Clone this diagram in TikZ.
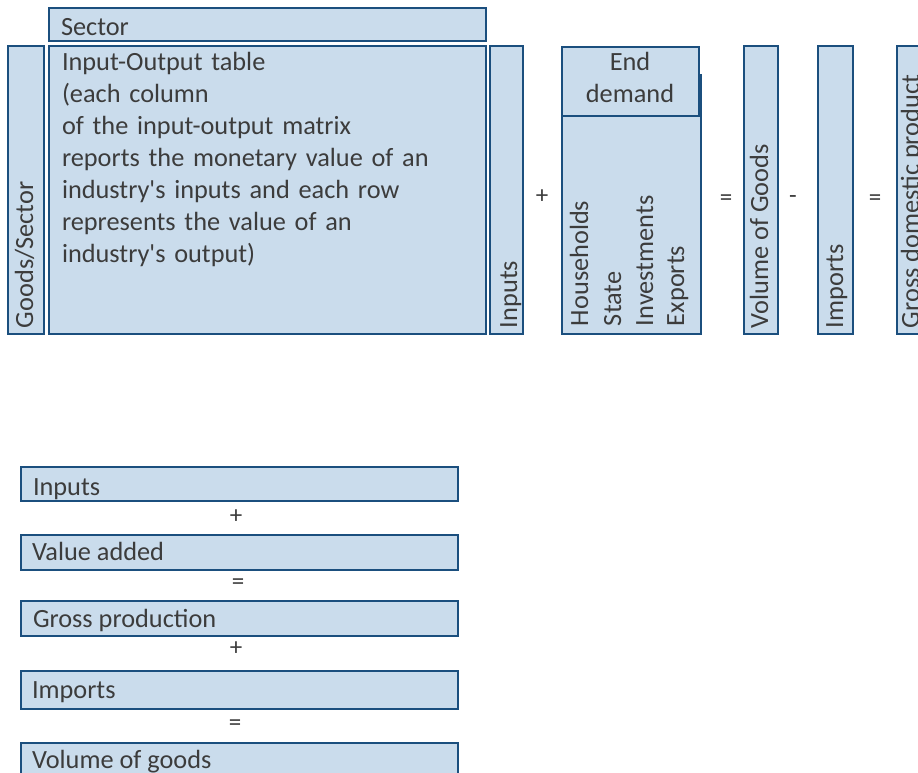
\documentclass[tikz,border=0pt]{standalone}
\usepackage{fontspec}
\setmainfont{Carlito}[Ligatures=TeXOff]
\definecolor{boxfill}{HTML}{CADCEC}
\definecolor{boxline}{HTML}{1B4F7E}
\definecolor{txt}{HTML}{3C3C3C}
\begin{document}
\begin{tikzpicture}[x=1pt,y=-1pt,
  cell/.style={draw=boxline,fill=boxfill,line width=2pt},
  lbl/.style={inner sep=0pt,outer sep=0pt,text=txt,font=\fontsize{26.3}{32}\selectfont,anchor=base west},
  vlbl/.style={lbl,rotate=90},
  op/.style={inner sep=0pt,text=txt,font=\fontsize{25}{28}\selectfont}]
\useasboundingbox (0,0) rectangle (918,773);
\clip (0,0) rectangle (918,773);
% top row boxes
\path[cell] (49,8) rectangle (486,41);
\path[cell] (8,46) rectangle (44,334);
\path[cell] (49,46) rectangle (486,334);
\path[cell] (490,46) rectangle (523,334);
\path[cell] (562,75) rectangle (701,334);
\path[cell] (562,47) rectangle (699,116);
\path[cell] (744,46) rectangle (778,334);
\path[cell] (818,46) rectangle (853,334);
\path[cell] (897,46) rectangle (935,334);
% top row texts
\node[lbl] (sector) at (61,36) {Sector};
\node[vlbl] (goods) at (33,328) {Goods/Sector};
\node[lbl,align=left,anchor=north west,text width=420pt] (io) at (62,52)
 {Input-Output table\\(each column\\of the input-output matrix\\reports the monetary value of an\\industry's inputs and each row\\represents the value of an\\industry's output)};
\node[vlbl] (inputs) at (517,328) {Inputs};
\node[op] (plus) at (542,197) {+};
\node[lbl,anchor=base] (end) at (630,71) {End};
\node[lbl,anchor=base] (demand) at (630,103) {demand};
\node[vlbl] (hh) at (588,326) {Households};
\node[vlbl] (state) at (621,326) {State};
\node[vlbl] (inv) at (653,326) {Investments};
\node[vlbl] (exp) at (684,326) {Exports};
\node[op] (eq1) at (726,200) {=};
\node[vlbl] (vog) at (768,328) {Volume of Goods};
\node[op] (minus) at (793,200) {-};
\node[vlbl] (imp) at (843,328) {Imports};
\node[op] (eq2) at (875,200) {=};
\node[vlbl] (gdp) at (919,328) {Gross domestic product};
% bottom column
\path[cell] (21,467) rectangle (458,501);
\path[cell] (21,535) rectangle (458,570);
\path[cell] (21,601) rectangle (458,636);
\path[cell] (21,671) rectangle (458,709);
\path[cell] (21,743) rectangle (458,790);
\node[lbl] (b1) at (33,495) {Inputs};
\node[op] (bp1) at (236,517) {+};
\node[lbl] (b2) at (32,560) {Value added};
\node[op] (be1) at (238,584) {=};
\node[lbl] (b3) at (33,627) {Gross production};
\node[op] (bp2) at (236,649) {+};
\node[lbl] (b4) at (32,698) {Imports};
\node[op] (be2) at (235,725) {=};
\node[lbl] (b5) at (32,768) {Volume of goods};
\end{tikzpicture}
\end{document}
